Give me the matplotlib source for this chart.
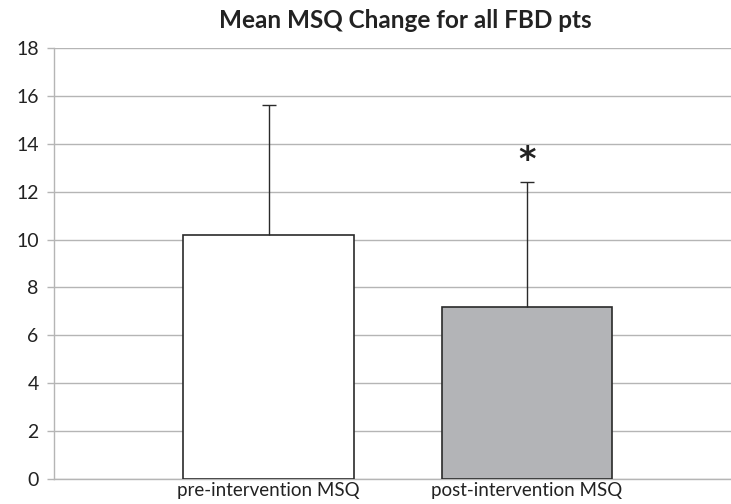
import matplotlib
matplotlib.use("Agg")
import matplotlib.pyplot as plt

categories = ["pre-intervention MSQ", "post-intervention MSQ"]
means = [10.2, 7.2]
err_upper = [5.4, 5.2]
bar_colors = ["#ffffff", "#b3b4b7"]
yticks = [0, 2, 4, 6, 8, 10, 12, 14, 16, 18]
title = "Mean MSQ Change for all FBD pts"
sig_marker = "*"
sig_value = 13.3

plt.rcParams['font.family'] = ['Lato', 'DejaVu Sans']

fig = plt.figure(figsize=(7.31, 5.04), dpi=100)
ax = fig.add_axes([54/731, 25/504, 677/731, 431/504])

x = list(range(len(categories)))
ax.bar(x, means, width=0.66, color=bar_colors, edgecolor="#2a2a2a", linewidth=1.2, zorder=3)
eb = ax.errorbar(x, means, yerr=[[0]*len(means), err_upper], fmt="none", ecolor="#2a2a2a",
                 elinewidth=1.0, capsize=5, capthick=1.0, zorder=4)
eb[1][0].set_visible(False)
ax.text(x[1], sig_value, sig_marker, ha="center", va="center", fontsize=24, fontweight="bold",
        color="#222222", family=['DejaVu Sans'])

ax.set_xlim(-0.830, 1.789)
ax.set_ylim(0, 18)
ax.set_yticks(yticks)
ax.set_yticklabels([str(t) for t in yticks], fontsize=14, color="#222222")
ax.set_xticks(x)
ax.set_xticklabels(categories, fontsize=13.5, color="#222222")
ax.tick_params(axis="x", length=0, pad=2)
ax.tick_params(axis="y", length=5, width=1, color="#b5b5b5", pad=6)
ax.grid(axis="y", color="#b5b5b5", linewidth=1.0, zorder=0)
for s in ["top", "right"]:
    ax.spines[s].set_visible(False)
ax.spines["left"].set_color("#b5b5b5")
ax.spines["bottom"].set_color("#b5b5b5")
ax.spines["left"].set_linewidth(1.0)
ax.spines["bottom"].set_linewidth(1.0)

fig.text(405/731, 1 - 21/504, title, ha="center", va="center", fontsize=17.5, fontweight="bold",
         color="#222222")

fig.savefig("out.png", dpi=100)
